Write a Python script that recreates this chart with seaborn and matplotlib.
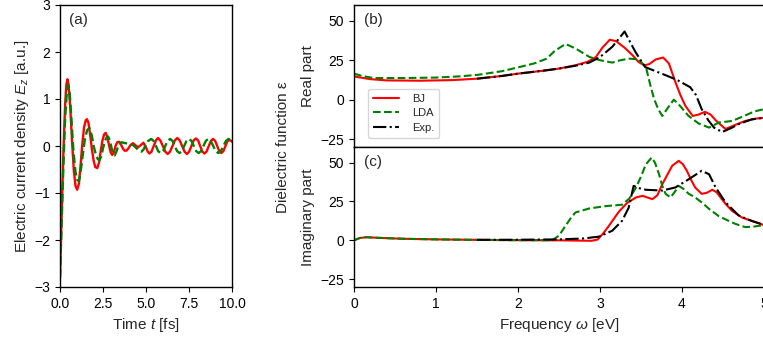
import numpy as np
import pandas as pd
import matplotlib
matplotlib.use("Agg")
import matplotlib.pyplot as plt
import seaborn as sns

# ---------------- data: panel (a) ----------------
t_bj = [0.0, 0.1, 0.2, 0.3, 0.37, 0.43, 0.5, 0.6, 0.7, 0.8, 0.9, 1.0, 1.1, 1.2, 1.3, 1.4, 1.5, 1.57,
        1.65, 1.75, 1.85, 1.95, 2.05, 2.17, 2.27, 2.37, 2.47, 2.57, 2.66, 2.76, 2.86, 2.95, 3.04, 3.13,
        3.23, 3.33, 3.43, 3.55, 3.65, 3.76, 3.86, 3.96, 4.1, 4.24, 4.38, 4.53, 4.7, 4.85, 5.0, 5.1,
        5.2, 5.32, 5.45, 5.58, 5.7, 5.83, 5.98, 6.12, 6.26, 6.4, 6.54, 6.68, 6.82, 6.96, 7.1, 7.24,
        7.38, 7.51, 7.64, 7.77, 7.9, 8.03, 8.15, 8.28, 8.4, 8.52, 8.65, 8.78, 8.9, 9.02, 9.14, 9.26,
        9.38, 9.5, 9.62, 9.73, 9.85, 9.95, 10.0]
ez_bj = [-2.8, -1.4, -0.1, 0.9, 1.3, 1.42, 1.3, 0.8, 0.1, -0.5, -0.85, -0.93, -0.8, -0.4, 0.05, 0.4, 0.55, 0.57,
         0.5, 0.25, -0.05, -0.3, -0.45, -0.47, -0.35, -0.1, 0.12, 0.25, 0.28, 0.18, 0.0, -0.14, -0.19, -0.13,
         0.0, 0.08, 0.09, 0.03, -0.05, -0.1, -0.1, -0.06, 0.02, 0.06, 0.02, -0.03, 0.02, 0.07, -0.03, -0.12,
         -0.16, -0.12, 0.0, 0.12, 0.17, 0.12, 0.0, -0.12, -0.17, -0.12, 0.0, 0.12, 0.17, 0.12, 0.0, -0.12,
         -0.17, -0.12, 0.0, 0.12, 0.16, 0.12, 0.0, -0.12, -0.16, -0.12, 0.0, 0.11, 0.15, 0.11, 0.0, -0.11,
         -0.15, -0.11, 0.0, 0.1, 0.13, 0.11, 0.09]

t_lda = [0.0, 0.1, 0.2, 0.3, 0.4, 0.48, 0.56, 0.66, 0.78, 0.9, 1.0, 1.1, 1.2, 1.32, 1.45, 1.58, 1.72,
         1.85, 1.97, 2.1, 2.2, 2.3, 2.4, 2.5, 2.62, 2.72, 2.8, 2.9, 3.0, 3.1, 3.18, 3.28, 3.4, 3.57,
         3.8, 4.05, 4.25, 4.4, 4.6, 4.73, 4.85, 4.98, 5.1, 5.3, 5.44, 5.58, 5.71, 5.85, 5.99, 6.12,
         6.26, 6.4, 6.54, 6.67, 6.81, 6.95, 7.09, 7.22, 7.36, 7.5, 7.64, 7.78, 7.92, 8.06, 8.2, 8.34,
         8.48, 8.62, 8.76, 8.91, 9.05, 9.2, 9.35, 9.5, 9.65, 9.8, 9.92, 10.0]
ez_lda = [-2.8, -1.6, -0.4, 0.6, 1.15, 1.3, 1.15, 0.6, -0.1, -0.55, -0.72, -0.75, -0.55, -0.2, 0.15, 0.34, 0.38,
          0.22, -0.02, -0.2, -0.28, -0.3, -0.22, -0.05, 0.12, 0.19, 0.2, 0.12, -0.05, -0.17, -0.2, -0.12, 0.02, 0.08,
          0.06, 0.05, 0.02, -0.03, -0.1, -0.12, -0.08, 0.02, 0.1, 0.15, 0.11, 0.0, -0.11, -0.15, -0.11, 0.0,
          0.11, 0.15, 0.11, 0.0, -0.11, -0.15, -0.11, 0.0, 0.11, 0.15, 0.11, 0.0, -0.11, -0.15, -0.11, 0.0,
          0.11, 0.15, 0.11, 0.0, -0.11, -0.15, -0.11, 0.0, 0.11, 0.15, 0.12, 0.1]

# ---------------- data: panel (b) real part ----------------
w_bj_re = [0.0, 0.2, 0.4, 0.8, 1.2, 1.5, 1.8, 2.0, 2.3, 2.5, 2.7, 2.85, 2.95, 3.03, 3.12, 3.2, 3.31, 3.4,
           3.47, 3.54, 3.6, 3.68, 3.77, 3.84, 3.92, 3.98, 4.04, 4.13, 4.2, 4.28, 4.35, 4.41, 4.53, 4.65,
           4.77, 4.9, 5.0]
re_bj = [14.7, 13.0, 12.2, 12.0, 12.4, 13.3, 15.0, 16.5, 18.3, 19.7, 21.8, 24.0, 27.0, 33.0, 38.0, 37.0, 32.5, 28.0,
         23.9, 21.8, 22.5, 25.5, 26.7, 23.0, 11.1, 3.0, -3.8, -10.3, -9.5, -7.7, -9.5, -13.0, -18.6, -16.0,
         -13.5, -12.0, -11.5]

w_lda_re = [0.0, 0.1, 0.24, 0.6, 1.0, 1.3, 1.52, 1.8, 2.02, 2.2, 2.35, 2.45, 2.58, 2.7, 2.87, 3.0, 3.15, 3.25,
            3.35, 3.47, 3.56, 3.61, 3.66, 3.71, 3.76, 3.83, 3.9, 3.96, 4.08, 4.2, 4.33, 4.45, 4.61, 4.75,
            4.88, 5.0]
re_lda = [16.5, 15.0, 13.7, 13.7, 14.0, 14.8, 15.8, 18.0, 20.7, 23.0, 26.0, 31.0, 35.3, 32.5, 27.1, 25.0, 23.5, 25.0,
          26.0, 25.6, 20.7, 10.0, 0.4, -6.0, -10.3, -5.0, 0.0, -3.0, -10.3, -15.0, -17.7, -14.5, -13.5, -10.5,
          -7.5, -6.0]

w_exp_re = [1.5, 1.8, 2.0, 2.3, 2.5, 2.7, 2.87, 3.0, 3.15, 3.3, 3.43, 3.55, 3.8, 3.94, 4.1, 4.17, 4.24, 4.32,
            4.39, 4.49, 4.6, 4.69, 4.85, 5.0]
re_exp = [13.3, 15.0, 16.5, 18.3, 19.7, 21.5, 23.5, 27.0, 33.5, 43.2, 30.4, 20.7, 15.5, 12.5, 7.9, 3.0, -6.0, -13.0,
          -17.7, -20.5, -18.0, -15.5, -12.5, -11.5]

# ---------------- data: panel (c) imaginary part ----------------
w_bj_im = [0.0, 0.07, 0.15, 0.3, 0.6, 1.0, 1.5, 2.0, 2.5, 2.9, 2.97, 3.04, 3.11, 3.23, 3.33, 3.44, 3.52, 3.58,
           3.64, 3.7, 3.76, 3.82, 3.88, 3.96, 4.01, 4.06, 4.11, 4.16, 4.24, 4.3, 4.37, 4.42, 4.47, 4.53,
           4.61, 4.73, 4.85, 4.97, 5.0]
im_bj = [0.0, 1.5, 2.0, 1.6, 1.0, 0.6, 0.3, 0.1, 0.0, -0.3, 0.5, 4.5, 9.4, 18.4, 24.0, 27.6, 28.6, 27.5,
         26.5, 29.0, 36.1, 42.0, 47.9, 51.1, 49.0, 44.7, 39.0, 34.0, 29.9, 30.5, 32.5, 31.0, 27.6, 23.5,
         19.0, 14.7, 12.5, 10.4, 9.5]

w_lda_im = [0.0, 0.07, 0.15, 0.3, 0.6, 1.0, 1.5, 2.0, 2.42, 2.5, 2.58, 2.64, 2.7, 2.87, 3.07, 3.27, 3.36, 3.44,
            3.5, 3.56, 3.63, 3.67, 3.72, 3.76, 3.8, 3.86, 3.91, 3.96, 4.02, 4.08, 4.16, 4.25, 4.33, 4.45,
            4.55, 4.65, 4.77, 4.87, 5.0]
im_lda = [0.0, 1.5, 2.0, 1.6, 1.0, 0.6, 0.3, 0.1, 0.1, 3.0, 9.4, 14.0, 17.9, 20.5, 22.0, 22.9, 27.0, 34.0,
          41.0, 48.9, 53.2, 50.0, 42.5, 35.0, 29.9, 27.6, 31.0, 35.0, 33.0, 30.0, 27.6, 24.0, 20.2, 15.5,
          13.0, 10.6, 8.5, 8.8, 9.8]

w_exp_im = [1.5, 2.0, 2.5, 2.8, 2.99, 3.15, 3.27, 3.35, 3.41, 3.48, 3.56, 3.76, 3.92, 4.08, 4.24, 4.33, 4.41,
            4.53, 4.69, 4.85, 4.97, 5.0]
im_exp = [0.3, 0.4, 0.6, 1.2, 2.4, 6.2, 12.6, 21.0, 35.0, 33.5, 32.5, 32.0, 34.0, 39.2, 44.7, 42.5, 34.0,
          24.5, 16.0, 12.5, 10.4, 9.8]

series_names = ["BJ", "LDA", "Exp."]
panel_tags = ["(a)", "(b)", "(c)"]
time_ticks = [0.0, 2.5, 5.0, 7.5, 10.0]
ez_ticks = [-3, -2, -1, 0, 1, 2, 3]
eps_ticks = [-25, 0, 25, 50]
freq_ticks = [0, 1, 2, 3, 4, 5]

# ---------------- style ----------------
sns.set_style("ticks")
plt.rcParams["font.family"] = ["Liberation Sans", "DejaVu Sans"]
plt.rcParams["mathtext.fontset"] = "custom"
plt.rcParams["mathtext.it"] = "Liberation Sans:italic"
plt.rcParams["mathtext.rm"] = "Liberation Sans"
plt.rcParams["xtick.labelsize"] = 10
plt.rcParams["ytick.labelsize"] = 10
plt.rcParams["axes.labelsize"] = 11
plt.rcParams["axes.edgecolor"] = "black"
plt.rcParams["axes.linewidth"] = 1.0
plt.rcParams["xtick.color"] = "black"
plt.rcParams["ytick.color"] = "black"

RED = "#ff0000"
GREEN = "#008000"
BLACK = "#000000"
LW = 1.5

fig = plt.figure(figsize=(7.63, 3.37), dpi=100)
ax_a = fig.add_axes([60 / 763, 50 / 337, 172 / 763, 282 / 337])
ax_b = fig.add_axes([354 / 763, 190 / 337, 410 / 763, 142 / 337])
ax_c = fig.add_axes([354 / 763, 50 / 337, 410 / 763, 140 / 337])

# panel (a)
sns.lineplot(x=t_bj, y=ez_bj, ax=ax_a, color=RED, lw=1.7, linestyle="-", sort=False)
sns.lineplot(x=t_lda, y=ez_lda, ax=ax_a, color=GREEN, lw=1.7, linestyle="--", sort=False)
ax_a.set_xlim(0, 10)
ax_a.set_ylim(-3, 3)
ax_a.set_xticks(time_ticks)
ax_a.set_xticklabels([f"{v:.1f}" for v in time_ticks])
ax_a.set_yticks(ez_ticks)
ax_a.set_xlabel("Time $t$ [fs]")
ax_a.set_ylabel("Electric current density $E_z$ [a.u.]", labelpad=2)
ax_a.text(0.05, 0.947, panel_tags[0], transform=ax_a.transAxes, fontsize=11, va="center", ha="left")

# panel (b)
sns.lineplot(x=w_bj_re, y=re_bj, ax=ax_b, color=RED, lw=LW, linestyle="-", sort=False, label=series_names[0])
sns.lineplot(x=w_lda_re, y=re_lda, ax=ax_b, color=GREEN, lw=LW, linestyle="--", sort=False, label=series_names[1])
sns.lineplot(x=w_exp_re, y=re_exp, ax=ax_b, color=BLACK, lw=LW, linestyle="-.", sort=False, label=series_names[2])
ax_b.set_xlim(0, 5)
ax_b.set_ylim(-30, 60)
ax_b.set_yticks(eps_ticks)
ax_b.set_xticks(freq_ticks)
ax_b.tick_params(axis="x", bottom=False, labelbottom=False)
ax_b.set_xlabel("")
ax_b.set_ylabel("Real part", labelpad=4)
ax_b.text(0.025, 0.894, panel_tags[1], transform=ax_b.transAxes, fontsize=11, va="center", ha="left")
leg = ax_b.legend(loc="lower left", bbox_to_anchor=(0.035, 0.065), fontsize=8, frameon=True,
                  handlelength=2.3, borderpad=0.45, labelspacing=0.4, handletextpad=1.2,
                  borderaxespad=0.0)
leg.get_frame().set_edgecolor("#cccccc")

# panel (c)
sns.lineplot(x=w_bj_im, y=im_bj, ax=ax_c, color=RED, lw=LW, linestyle="-", sort=False)
sns.lineplot(x=w_lda_im, y=im_lda, ax=ax_c, color=GREEN, lw=LW, linestyle="--", sort=False)
sns.lineplot(x=w_exp_im, y=im_exp, ax=ax_c, color=BLACK, lw=LW, linestyle="-.", sort=False)
ax_c.set_xlim(0, 5)
ax_c.set_ylim(-30, 60)
ax_c.set_yticks(eps_ticks)
ax_c.set_xticks(freq_ticks)
ax_c.set_xlabel("Frequency $\\omega$ [eV]")
ax_c.set_ylabel("Imaginary part", labelpad=4)
ax_c.text(0.025, 0.893, panel_tags[2], transform=ax_c.transAxes, fontsize=11, va="center", ha="left")

fig.text(283 / 763, 1 - 147 / 337, "Dielectric function ε", rotation=90, fontsize=11,
         va="center", ha="center")

fig.savefig("out.png", dpi=100)
